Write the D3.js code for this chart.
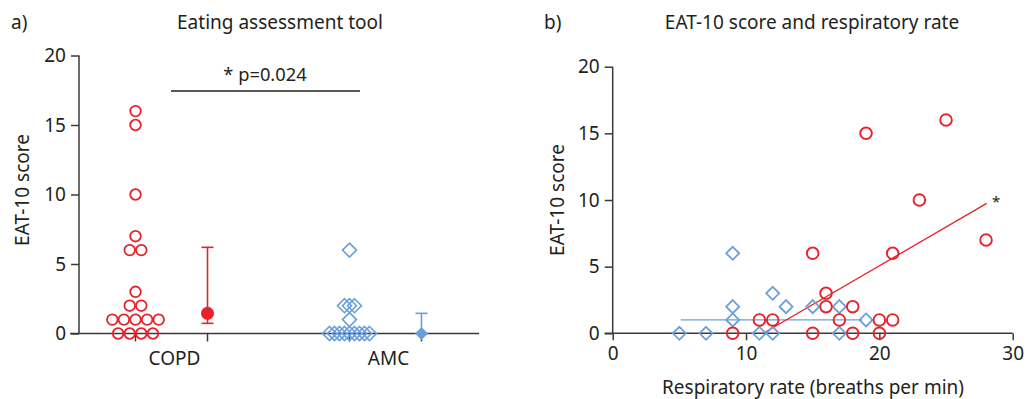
<!DOCTYPE html>
<html>
<head>
<meta charset="utf-8">
<script src="https://cdn.jsdelivr.net/npm/d3@7"></script>
<style>
  body { margin: 0; background: #fff; }
  svg text { font-family: "Noto Sans", sans-serif; fill: #231f20; }
</style>
</head>
<body>
<svg id="chart" width="1027" height="399"></svg>
<script>
// panel a: EAT-10 score per group
const groups = ['COPD', 'AMC']
const copdScores = [16, 15, 10, 7, 6, 6, 3, 2, 2, 1, 1, 1, 1, 1, 0, 0, 0, 0]
const amcScores = [6, 2, 2, 2, 1, 0, 0, 0, 0, 0, 0, 0, 0, 0]
const summaryCenter = [1.45, 0]
const summaryLow = [0.73, 0]
const summaryHigh = [6.2, 1.45]
const yTicksA = [0, 5, 10, 15, 20]

// panel b: EAT-10 score vs respiratory rate
const copdRate = [9, 11, 12, 15, 15, 16, 16, 17, 18, 18, 19, 20, 20, 21, 21, 23, 25, 28]
const copdEat = [0, 1, 1, 6, 0, 3, 2, 1, 2, 0, 15, 1, 0, 6, 1, 10, 16, 7]
const amcRate = [5, 7, 9, 9, 9, 11, 12, 12, 13, 15, 17, 17, 19]
const amcEat = [0, 0, 6, 2, 1, 0, 3, 0, 2, 2, 2, 0, 1]
const copdFit = [[11.3, 0], [28.05, 9.75]]
const amcFit = [[5.1, 1], [18.7, 1]]
const xTicksB = [0, 10, 20, 30]
const yTicksB = [0, 5, 10, 15, 20]

const red = '#e8212b'
const blue = '#6a9fd8'
const axisColor = '#3a3a3a'
const fontSize = 19

const svg = d3.select('#chart')

function styleAxis(g) {
  g.selectAll('.domain').remove()
  g.selectAll('.tick line').attr('stroke', axisColor).attr('stroke-width', 1.5)
  g.selectAll('.tick text').attr('font-size', fontSize).attr('fill', '#231f20')
    .style('font-family', '"Noto Sans", sans-serif')
}

function diamond(sel, x, y, s) {
  return sel.append('path')
    .attr('d', `M${x},${y - s}L${x + s},${y}L${x},${y + s}L${x - s},${y}Z`)
}

// beeswarm offsets: points with the same value are spread around the column
function swarm(values, spacing) {
  const counts = d3.rollup(values, v => v.length, d => d)
  const seen = new Map()
  return values.map(v => {
    const n = counts.get(v)
    const i = seen.get(v) || 0
    seen.set(v, i + 1)
    return { v, dx: (i - (n - 1) / 2) * spacing }
  })
}

// ---------- panel a ----------
const ya = d3.scaleLinear().domain([0, 20]).range([333.5, 55.5])
const xa = d3.scalePoint().domain(groups).range([78, 479]).padding(0.437)
const colOff = 36
const ga = svg.append('g')

ga.append('text').attr('x', 11).attr('y', 29).attr('font-size', fontSize).text('a)')
ga.append('text').attr('x', 280).attr('y', 29).attr('text-anchor', 'middle')
  .attr('font-size', fontSize).text('Eating assessment tool')
ga.append('text').attr('transform', 'translate(29,190) rotate(-90)')
  .attr('text-anchor', 'middle').attr('font-size', fontSize).text('EAT-10 score')

ga.append('g').attr('transform', 'translate(79,0)')
  .call(d3.axisLeft(ya).tickValues(yTicksA).tickSize(8).tickPadding(5).tickSizeOuter(0))
  .call(styleAxis)
ga.append('line').attr('x1', 79).attr('x2', 79).attr('y1', ya(20)).attr('y2', ya(0))
  .attr('stroke', axisColor).attr('stroke-width', 1.5)
ga.append('line').attr('x1', 70).attr('x2', 479).attr('y1', ya(0)).attr('y2', ya(0))
  .attr('stroke', axisColor).attr('stroke-width', 1.5)
groups.forEach(gname => {
  [-colOff, colOff].forEach(o => {
    ga.append('line').attr('x1', xa(gname) + o).attr('x2', xa(gname) + o)
      .attr('y1', ya(0)).attr('y2', ya(0) + 8)
      .attr('stroke', axisColor).attr('stroke-width', 1.5)
  })
  ga.append('text').attr('x', xa(gname) + 3).attr('y', 365)
    .attr('text-anchor', 'middle').attr('font-size', fontSize).text(gname)
})

// significance bar
ga.append('line').attr('x1', 171).attr('x2', 360).attr('y1', 91).attr('y2', 91)
  .attr('stroke', '#231f20').attr('stroke-width', 1.3)
ga.append('text').attr('x', 265).attr('y', 81).attr('text-anchor', 'middle')
  .attr('font-size', 18.3).text('* p=0.024')

// COPD points
swarm(copdScores, 11.6).forEach(p => {
  ga.append('circle').attr('cx', xa('COPD') - colOff + p.dx).attr('cy', ya(p.v)).attr('r', 5.3)
    .attr('fill', 'none').attr('stroke', red).attr('stroke-width', 1.8)
})
// AMC points
swarm(amcScores, 5).forEach(p => {
  diamond(ga, xa('AMC') - colOff + p.dx, ya(p.v), 7)
    .attr('fill', 'none').attr('stroke', blue).attr('stroke-width', 1.6)
})

// summary + error bars
groups.forEach((gname, i) => {
  const cx = xa(gname) + colOff
  const col = i === 0 ? red : blue
  ga.append('line').attr('x1', cx).attr('x2', cx)
    .attr('y1', ya(summaryLow[i])).attr('y2', ya(summaryHigh[i]))
    .attr('stroke', col).attr('stroke-width', 1.6)
  ;[summaryLow[i], summaryHigh[i]].forEach(v => {
    if (v === summaryCenter[i]) return
    ga.append('line').attr('x1', cx - 6).attr('x2', cx + 6).attr('y1', ya(v)).attr('y2', ya(v))
      .attr('stroke', col).attr('stroke-width', 1.6)
  })
  if (i === 0) {
    ga.append('circle').attr('cx', cx).attr('cy', ya(summaryCenter[i])).attr('r', 6.5).attr('fill', col)
  } else {
    diamond(ga, cx, ya(summaryCenter[i]), 6.5).attr('fill', col)
  }
})

// ---------- panel b ----------
const xb = d3.scaleLinear().domain([0, 30]).range([612.7, 1012.7])
const yb = d3.scaleLinear().domain([0, 20]).range([333.3, 66.7])
const gb = svg.append('g')

gb.append('text').attr('x', 544).attr('y', 29).attr('font-size', fontSize).text('b)')
gb.append('text').attr('x', 812).attr('y', 29).attr('text-anchor', 'middle')
  .attr('font-size', fontSize).text('EAT-10 score and respiratory rate')
gb.append('text').attr('transform', 'translate(564,200) rotate(-90)')
  .attr('text-anchor', 'middle').attr('font-size', fontSize).text('EAT-10 score')
gb.append('text').attr('x', 813).attr('y', 394).attr('text-anchor', 'middle')
  .attr('font-size', fontSize).text('Respiratory rate (breaths per min)')

gb.append('g').attr('transform', `translate(${xb(0)},0)`)
  .call(d3.axisLeft(yb).tickValues(yTicksB).tickSize(8).tickPadding(5).tickSizeOuter(0))
  .call(styleAxis)
gb.append('g').attr('transform', `translate(0,${yb(0)})`)
  .call(d3.axisBottom(xb).tickValues(xTicksB).tickSize(7).tickPadding(6).tickSizeOuter(0))
  .call(styleAxis)
gb.append('line').attr('x1', xb(0)).attr('x2', xb(0)).attr('y1', yb(20)).attr('y2', yb(0))
  .attr('stroke', axisColor).attr('stroke-width', 1.5)
gb.append('line').attr('x1', xb(0) - 8).attr('x2', xb(30)).attr('y1', yb(0)).attr('y2', yb(0))
  .attr('stroke', axisColor).attr('stroke-width', 1.5)

const line = d3.line().x(d => xb(d[0])).y(d => yb(d[1]))
gb.append('path').attr('d', line(amcFit)).attr('fill', 'none').attr('stroke', blue).attr('stroke-width', 1.3)
gb.append('path').attr('d', line(copdFit)).attr('fill', 'none').attr('stroke', red).attr('stroke-width', 1.3)
gb.append('text').attr('x', xb(28.75)).attr('y', yb(10.05) + 8).attr('text-anchor', 'middle')
  .attr('font-size', 15).text('*')

amcRate.forEach((r, i) => {
  diamond(gb, xb(r), yb(amcEat[i]), 6.5)
    .attr('fill', 'none').attr('stroke', blue).attr('stroke-width', 1.8)
})
copdRate.forEach((r, i) => {
  gb.append('circle').attr('cx', xb(r)).attr('cy', yb(copdEat[i])).attr('r', 5.8)
    .attr('fill', 'none').attr('stroke', red).attr('stroke-width', 1.9)
})
</script>
</body>
</html>
